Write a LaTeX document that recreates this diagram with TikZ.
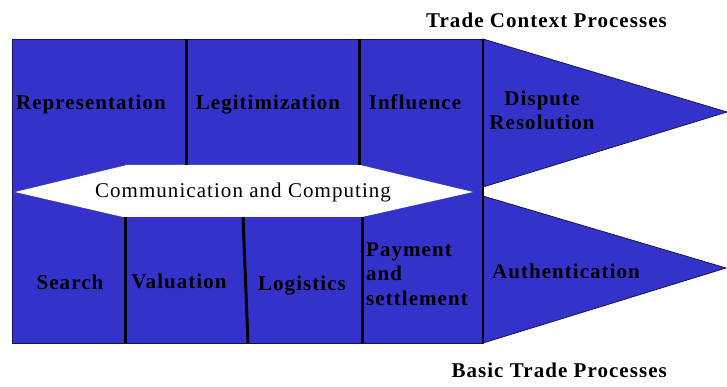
\documentclass[tikz,border=0pt]{standalone}
\usepackage{fontspec}
\setmainfont{Liberation Serif}
\newfontfamily\lsfont[LetterSpace=5]{Liberation Serif}
\definecolor{tblue}{RGB}{51,51,204}
\definecolor{tedge}{RGB}{20,20,90}
\begin{document}
\begin{tikzpicture}[x=1pt,y=-1pt,
  bluearea/.style={fill=tblue,draw=tedge,line width=0.8pt},
  divider/.style={draw=black,line width=3pt},
  thinline/.style={draw=black,line width=1.2pt},
  lbl/.style={font=\lsfont\bfseries\fontsize{21}{24}\selectfont,inner sep=0pt,text=black},
  commlbl/.style={font=\lsfont\fontsize{21}{24}\selectfont,inner sep=0pt,text=black}]
\useasboundingbox (0,0) rectangle (727,387);
% main blue block
\path[bluearea] (12,39) rectangle (483,343);
% triangles
\path[bluearea] (483,39) -- (727,112) -- (483,187) -- cycle;
\path[bluearea] (483,196) -- (726,268) -- (483,343) -- cycle;
% white hexagon
\fill[white] (15,192) -- (127,165) -- (360,165) -- (473,192) -- (362,217) -- (123,217) -- cycle;
% dividers
\draw[divider] (186,39) -- (186,165);
\draw[divider] (359,39) -- (359,165);
\draw[divider] (125,217) -- (125,343);
\draw[divider] (243,217) -- (248,343);
\draw[divider] (362,217) -- (362,343);
\draw[thinline] (483,39) -- (483,343);
% labels
\node[lbl,anchor=base] (rep) at (91,110) {Representation};
\node[lbl,anchor=base] (leg) at (268,110) {Legitimization};
\node[lbl,anchor=base] (inf) at (415,110) {Influence};
\node[lbl,align=center,anchor=center] (dis) at (542,110) {Dispute\\Resolution};
\node[commlbl,anchor=base] (com) at (243,198) {Communication and Computing};
\node[lbl,anchor=base] (sea) at (70,289) {Search};
\node[lbl,anchor=base] (val) at (179,288) {Valuation};
\node[lbl,anchor=base] (log) at (302,290) {Logistics};
\node[lbl,anchor=base west] (pay1) at (366,256) {Payment};
\node[lbl,anchor=base west] (pay2) at (366,280) {and};
\node[lbl,anchor=base west] (pay3) at (366,305) {settlement};
\node[lbl,anchor=base] (aut) at (566,278) {Authentication};
\node[lbl,anchor=base east] (tcp) at (667,28) {Trade Context Processes};
\node[lbl,anchor=base east] (btp) at (667,377) {Basic Trade Processes};
\end{tikzpicture}
\end{document}
